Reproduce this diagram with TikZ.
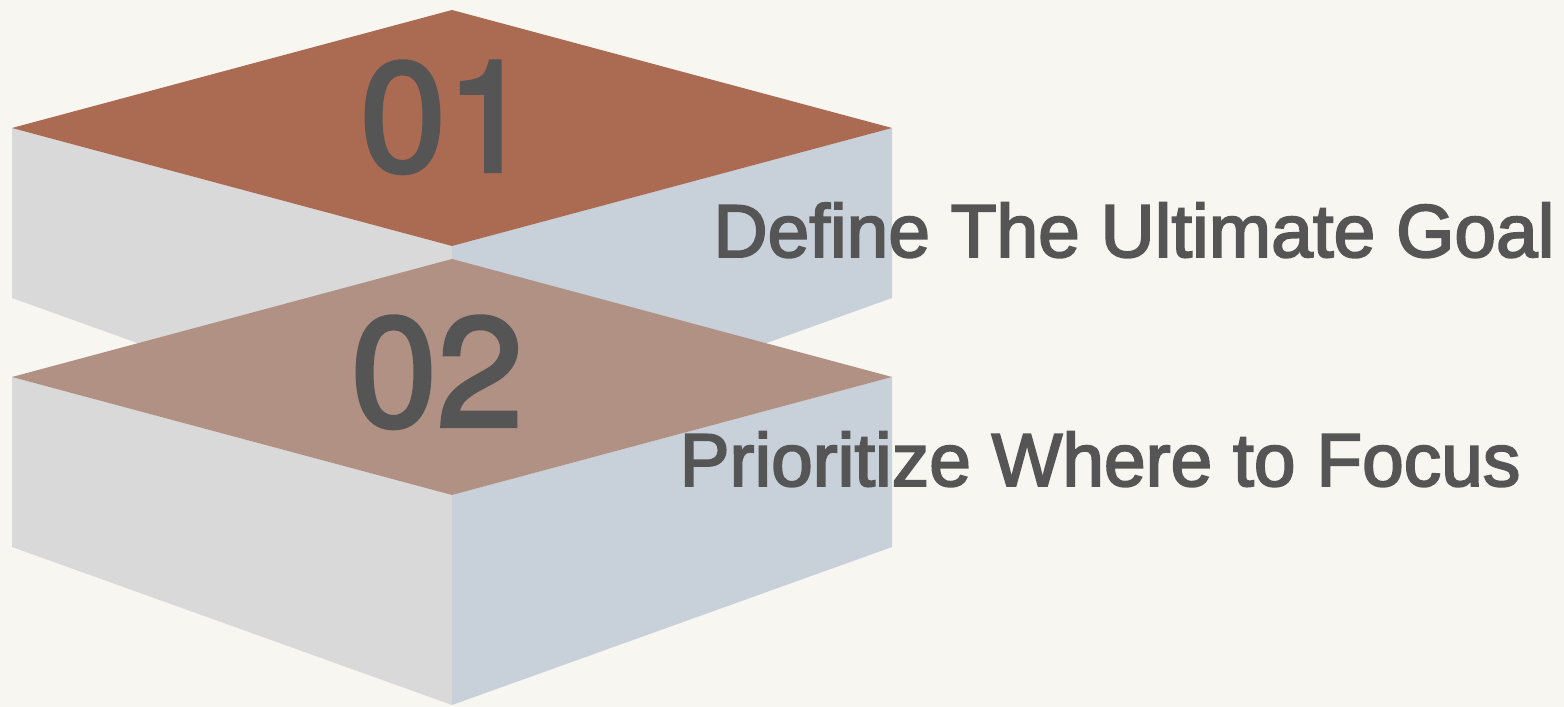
\documentclass[tikz,border=0pt]{standalone}
\usepackage{fontspec}
\setmainfont{Liberation Sans}
\newfontfamily\heavyfont[RawFeature={embolden=2.6}]{Liberation Sans}
\newfontfamily\digitfont[RawFeature={embolden=2.6}]{TeX Gyre Heros}
\definecolor{bgc}{HTML}{F7F6F1}
\definecolor{topA}{HTML}{AB6B53}
\definecolor{topB}{HTML}{B09184}
\definecolor{sideL}{HTML}{D9D9D9}
\definecolor{sideR}{HTML}{C8D0D9}
\definecolor{txt}{HTML}{555555}
\begin{document}
\begin{tikzpicture}[x=0.01cm,y=-0.01cm,num/.style={anchor=base,inner sep=0pt,text=txt,font=\digitfont\fontsize{44}{44}\selectfont},lbl/.style={anchor=base,inner sep=0pt,text=txt,font=\heavyfont\fontsize{21.3}{21.3}\selectfont},faceL/.style={fill=sideL},faceR/.style={fill=sideR}]
\def\xl{12};
\def\xm{452};
\def\xr{892};
\def\dy{249};

\fill[bgc] (0,0) rectangle (1564,707);
\useasboundingbox (0,0) rectangle (1564,707);

% block 1
\fill[faceL] (\xl,128) -- (\xl,298) -- (\xm,456) -- (\xm,246) -- cycle;
\fill[faceR] (\xr,128) -- (\xr,298) -- (\xm,456) -- (\xm,246) -- cycle;
\fill[topA] (\xl,128) -- (\xm,10) -- (\xr,128) -- (\xm,246) -- cycle;
\node[num] (n01) at (446,171) {01};

% block 2
\fill[faceL] (\xl,128+\dy) -- (\xl,298+\dy) -- (\xm,456+\dy) -- (\xm,246+\dy) -- cycle;
\fill[faceR] (\xr,128+\dy) -- (\xr,298+\dy) -- (\xm,456+\dy) -- (\xm,246+\dy) -- cycle;
\fill[topB] (\xl,128+\dy) -- (\xm,10+\dy) -- (\xr,128+\dy) -- (\xm,246+\dy) -- cycle;
\node[num] (n02) at (437,426) {02};

\node[lbl] (goal) at (1134,257) {Define The Ultimate Goal};
\node[lbl] (focus) at (1100,486) {Prioritize Where to Focus};
\end{tikzpicture}
\end{document}
